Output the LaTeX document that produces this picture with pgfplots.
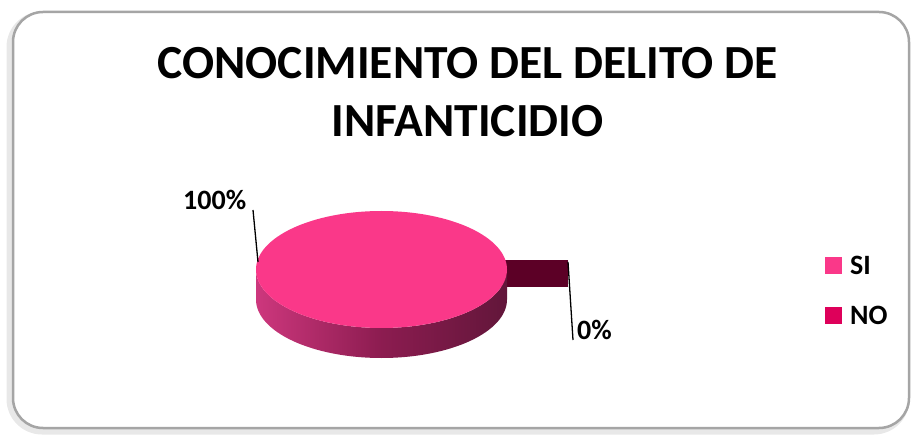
\documentclass[border=0pt]{standalone}
\usepackage{pgfplots}
\pgfplotsset{compat=1.18}
\usepackage{pgfplotstable}
\usepackage{fontspec}
\setmainfont{Carlito}
\definecolor{siPink}{RGB}{250,56,137}
\definecolor{noMag}{RGB}{222,0,90}
\definecolor{noDark}{RGB}{92,0,38}
\definecolor{sideL}{RGB}{205,55,125}
\definecolor{sideM}{RGB}{140,28,80}
\definecolor{sideR}{RGB}{98,22,58}
\definecolor{frameGray}{RGB}{165,165,165}

\pgfplotstableread{
label value
SI 100
NO 0
}\piedata

\begin{document}
\begin{tikzpicture}
\pgfplotstablegetelem{0}{value}\of\piedata \let\valSI\pgfplotsretval
\pgfplotstablegetelem{1}{value}\of\piedata \let\valNO\pgfplotsretval
\pgfmathsetmacro\angSI{3.6*\valSI}
\begin{axis}[x=1pt,y=1pt,xmin=0,xmax=911,ymin=0,ymax=430,hide axis,clip=false,
  legend style={draw=none, fill=none, at={(0.9056,0.3238)}, anchor=west,
    font=\fontsize{28}{34}\selectfont\bfseries, row sep=30pt, column sep=8pt,
    inner sep=0pt, nodes={inner sep=0pt}},
  legend cell align=left,
  legend image code/.code={\fill[#1, draw=none] (0pt,-8.5pt) rectangle (17pt,8.5pt);}]
\path (axis cs:0,0) rectangle (axis cs:911,430);
% frame with shadow
\draw[gray!18, line width=7pt, rounded corners=32pt] (axis cs:10,-1) rectangle (axis cs:906,415);
\draw[frameGray, line width=2.5pt, rounded corners=30pt, fill=white] (axis cs:13,2) rectangle (axis cs:909,418);
% title
\node[anchor=base, font=\fontsize{47.5}{57}\selectfont\bfseries] at (axis cs:467.5,351) {CONOCIMIENTO DEL DELITO DE};
\node[anchor=base, font=\fontsize{47.5}{57}\selectfont\bfseries] at (axis cs:467.5,293) {INFANTICIDIO};
% NO slice (0%), exploded cut face
\fill[noDark] (axis cs:495,170) rectangle (axis cs:568,143);
% side of SI slice
\shade[left color=sideL, right color=sideR, middle color=sideM]
  (axis cs:256,160.5) -- (axis cs:256,130.5)
  arc[start angle=180, end angle=360, x radius=125.5pt, y radius=58.5pt]
  -- (axis cs:507,160.5)
  arc[start angle=0, end angle=-180, x radius=125.5pt, y radius=58.5pt] -- cycle;
% top of SI slice
\fill[siPink] (axis cs:381.5,160.5) -- (axis cs:507,160.5)
  arc[start angle=0, end angle=\angSI, x radius=125.5pt, y radius=58.5pt] -- cycle;
% leader lines and labels
\draw[black, line width=1.3pt] (axis cs:253,220) -- (axis cs:258,168);
\draw[black, line width=1.3pt] (axis cs:568,168) -- (axis cs:573,90);
\node[anchor=base west, inner sep=0pt, font=\fontsize{28}{34}\selectfont\bfseries] at (axis cs:183,220) {\valSI\%};
\node[anchor=base west, inner sep=0pt, font=\fontsize{28}{34}\selectfont\bfseries] at (axis cs:577,90) {\valNO\%};
\addlegendimage{fill=siPink}
\addlegendentry{SI}
\addlegendimage{fill=noMag}
\addlegendentry{NO}
\end{axis}
\end{tikzpicture}
\end{document}
